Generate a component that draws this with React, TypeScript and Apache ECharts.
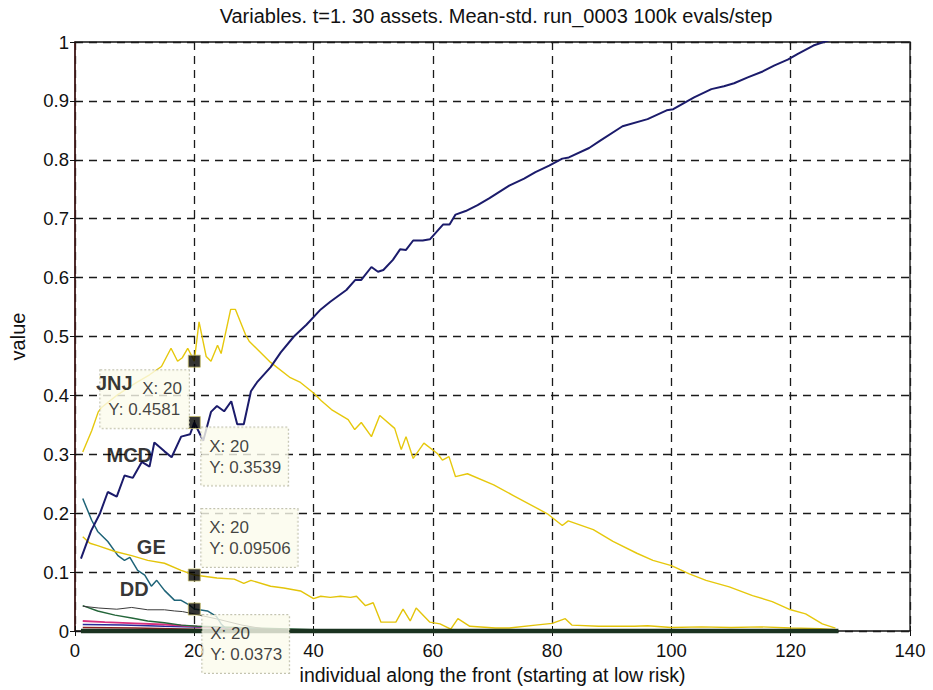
import React, { useEffect, useRef } from "react";
import * as echarts from "echarts";

const TITLE = "Variables. t=1. 30 assets. Mean-std. run_0003 100k evals/step";
const X_NAME = "individual along the front (starting at low risk)";
const Y_NAME = "value";

// MCD (navy, rising)
const mcdData: [number, number][] = [
  [1, 0.123], [2.7, 0.17], [4.2, 0.2], [5.5, 0.236], [7, 0.228], [8.3, 0.264], [9.7, 0.26],
  [11.2, 0.287], [12.5, 0.279], [13.3, 0.32], [15, 0.305], [16.2, 0.295], [17.8, 0.33],
  [19.3, 0.334], [20, 0.3539], [21.5, 0.323], [22.8, 0.372], [23.8, 0.382], [25, 0.373],
  [26.2, 0.39], [27.2, 0.351], [28.3, 0.351], [29.5, 0.407], [30.5, 0.422], [32.8, 0.448],
  [34.5, 0.473], [36.7, 0.5], [38.8, 0.52], [41.2, 0.546], [42.8, 0.559], [45.5, 0.579],
  [47, 0.596], [48, 0.596], [49.7, 0.618], [50.8, 0.61], [51.7, 0.613], [53.3, 0.63],
  [54.5, 0.648], [55.5, 0.647], [56.7, 0.663], [58.3, 0.663], [59.5, 0.665], [61.7, 0.69],
  [62.8, 0.69], [63.8, 0.707], [65.5, 0.713], [67.5, 0.723], [69.5, 0.735], [72.8, 0.756],
  [75.3, 0.768], [77.2, 0.779], [79.5, 0.79], [81.7, 0.802], [82.8, 0.804], [86.2, 0.82],
  [88, 0.832], [91.8, 0.857], [96, 0.869], [99.2, 0.884], [100.3, 0.886], [103.8, 0.906],
  [106.7, 0.92], [108.8, 0.925], [110.5, 0.93], [112.8, 0.94], [115.3, 0.95], [117.2, 0.96],
  [119.5, 0.97], [121.2, 0.98], [123.8, 0.994], [126.7, 1.004],
];

// JNJ (yellow hump)
const jnjData: [number, number][] = [
  [1.3, 0.304], [2.8, 0.34], [3.9, 0.372], [4.5, 0.38], [7, 0.4], [10, 0.42], [12.5, 0.435],
  [14.5, 0.449], [16.1, 0.48], [17.2, 0.458], [18, 0.464], [18.9, 0.48], [20, 0.4581],
  [20.8, 0.525], [22, 0.466], [22.8, 0.458], [23.9, 0.485], [24.5, 0.471], [26.1, 0.546],
  [26.9, 0.546], [28.6, 0.503], [29.2, 0.492], [32.8, 0.456], [36.1, 0.43], [37.8, 0.422],
  [40, 0.404], [41.3, 0.391], [43, 0.376], [45.8, 0.359], [46.9, 0.342], [48, 0.354],
  [49.7, 0.33], [51.1, 0.366], [53.6, 0.344], [54.7, 0.308], [55.5, 0.33], [56.7, 0.293],
  [58.5, 0.319], [60.8, 0.301], [61.6, 0.29], [62.7, 0.296], [63.8, 0.262], [65.8, 0.267],
  [70.2, 0.248], [73.5, 0.23], [79.2, 0.199], [81.7, 0.179], [82.7, 0.187], [86.9, 0.172],
  [90.2, 0.152], [94.2, 0.132], [96.9, 0.12], [100, 0.111], [103, 0.097], [105.8, 0.086],
  [109.7, 0.075], [113.6, 0.06], [116.9, 0.05], [119.7, 0.037], [122.5, 0.029],
  [125.3, 0.012], [127.5, 0.005],
];

// GE (yellow, low)
const geData: [number, number][] = [
  [1.3, 0.16], [2.5, 0.149], [3.8, 0.145], [6.7, 0.135], [9.5, 0.128], [12.2, 0.12],
  [15, 0.115], [17.8, 0.103], [20, 0.09506], [23.8, 0.09], [26.7, 0.088], [28.3, 0.081],
  [29.5, 0.086], [32.8, 0.076], [35, 0.073], [37.8, 0.068], [40, 0.055], [41.2, 0.059],
  [42.8, 0.057], [44.5, 0.059], [46.2, 0.057], [47.2, 0.059], [48.7, 0.043], [50, 0.048],
  [51.3, 0.015], [53.8, 0.015], [55, 0.037], [56.2, 0.017], [57.2, 0.039], [59.5, 0.015],
  [61.2, 0.012], [63, 0.003], [64.2, 0.021], [66.2, 0.008], [70.5, 0.005], [72.8, 0.005],
  [77.2, 0.01], [80, 0.013], [82.2, 0.021], [83.3, 0.01], [87.8, 0.008], [93.8, 0.008],
  [96, 0.009], [100, 0.006], [105, 0.007], [110, 0.006], [115, 0.007], [120, 0.005],
  [125, 0.004], [127.5, 0.002],
];

// DD (teal)
const ddData: [number, number][] = [
  [1.3, 0.225], [2.8, 0.188], [3.8, 0.169], [5.5, 0.152], [7.2, 0.128], [8.3, 0.12],
  [9.2, 0.125], [10.5, 0.103], [11.7, 0.095], [12.8, 0.076], [13.7, 0.086], [15, 0.069],
  [16.7, 0.052], [17.8, 0.052], [19.2, 0.044], [20, 0.0373], [22.2, 0.034], [23.7, 0.025],
  [24.5, 0.012], [25.3, 0.004], [27, 0],
];

// other small weights near zero
const blackThinData: [number, number][] = [
  [1.3, 0.042], [4, 0.039], [7, 0.037], [9.5, 0.04], [12.2, 0.036], [15, 0.036],
  [16.7, 0.034], [18, 0.033], [19.5, 0.03], [24, 0.02], [28, 0.01], [32, 0.003], [36, 0],
];
const greenData: [number, number][] = [
  [1.3, 0.043], [3.8, 0.034], [6.7, 0.027], [9.5, 0.022], [12.2, 0.017], [15, 0.014],
  [17.8, 0.01], [20.5, 0.008], [30, 0.005], [40, 0.002], [50, 0],
];
const magentaData: [number, number][] = [
  [1.3, 0.017], [5, 0.015], [10, 0.013], [15, 0.011], [20, 0.008], [25, 0.005], [30, 0.002], [35, 0],
];
const blueData: [number, number][] = [
  [1.3, 0.011], [8, 0.01], [15, 0.008], [20, 0.007], [30, 0.004], [40, 0],
];
const darkRedData: [number, number][] = [
  [1.3, 0.006], [10, 0.005], [20, 0.003], [30, 0],
];
const baselineData: [number, number][] = [
  [1, 0], [128, 0],
];

// data tips
const tipNames = ["JNJ", "MCD", "GE", "DD"];
const tipX = [20, 20, 20, 20];
const tipY = [0.4581, 0.3539, 0.09506, 0.0373];
const tipYText = ["0.4581", "0.3539", "0.09506", "0.0373"];

const FONT = "'Liberation Sans', Arial, Helvetica, sans-serif";

export default function App() {
  const ref = useRef<HTMLDivElement>(null);

  useEffect(() => {
    if (!ref.current) return;
    const chart = echarts.init(ref.current, null, { renderer: "svg" });

    // box top-left offsets relative to marker centre
    const boxOffsets: [number, number][] = [[-94, 9], [7, 5], [7, -66], [8, 6]];
    // name label centre offsets relative to marker centre
    const nameOffsets: [number, number][] = [[-80, 22], [-65, 32], [-43, -28], [-60, -20]];

    const tipData = tipNames.map((n, i) => ({
      value: [tipX[i], tipY[i]],
      label: {
        show: true,
        position: "inside",
        align: "left",
        verticalAlign: "top",
        offset: boxOffsets[i],
        formatter:
          i === 0
            ? `{gap|}X: ${tipX[i]}\nY: ${tipYText[i]}`
            : `X: ${tipX[i]}\nY: ${tipYText[i]}`,
        rich: { gap: { width: 34, height: 21 } },
      },
    }));

    const nameData = tipNames.map((n, i) => ({
      value: [tipX[i], tipY[i]],
      label: {
        show: true,
        position: "inside",
        align: "center",
        verticalAlign: "middle",
        offset: nameOffsets[i],
        formatter: n,
      },
    }));

    const lineSeries = (
      name: string,
      data: [number, number][],
      color: string,
      width: number,
      z = 2,
      clip = true
    ) => ({
      name,
      type: "line",
      data,
      showSymbol: false,
      symbol: "none",
      clip,
      lineStyle: { color, width },
      z,
      silent: true,
    });

    chart.setOption({
      animation: false,
      backgroundColor: "#ffffff",
      title: {
        text: TITLE,
        left: 491,
        top: 1,
        textAlign: "center",
        textStyle: { fontFamily: FONT, fontSize: 20, fontWeight: "normal", color: "#111" },
      },
      grid: {
        left: 73,
        right: 23,
        top: 42,
        bottom: 55,
        show: true,
        borderColor: "#111",
        borderWidth: 1.3,
        backgroundColor: "transparent",
      },
      xAxis: [
        {
          type: "value",
          min: 0,
          max: 140,
          interval: 20,
          name: X_NAME,
          nameLocation: "middle",
          nameGap: 34,
          nameTextStyle: { fontFamily: FONT, fontSize: 19.5, color: "#111" },
          axisLine: { show: false },
          axisTick: { show: true, inside: true, length: 5, lineStyle: { color: "#111" } },
          axisLabel: { fontFamily: FONT, fontSize: 18.5, color: "#111", margin: 10 },
          splitLine: {
            show: true,
            lineStyle: { color: "#1a1a1a", width: 1.3, type: [8, 6] },
          },
        },
        {
          type: "value",
          position: "top",
          min: 0,
          max: 140,
          interval: 20,
          axisLine: { show: false },
          axisTick: { show: true, inside: true, length: 5, lineStyle: { color: "#111" } },
          axisLabel: { show: false },
          splitLine: { show: false },
        },
      ],
      yAxis: [
        {
          type: "value",
          min: 0,
          max: 1,
          interval: 0.1,
          name: Y_NAME,
          nameLocation: "middle",
          nameGap: 47,
          nameTextStyle: { fontFamily: FONT, fontSize: 20, color: "#111" },
          axisLine: { show: true, lineStyle: { color: "#4a1a1a", width: 1.5 } },
          axisTick: { show: true, inside: true, length: 5, lineStyle: { color: "#111" } },
          axisLabel: { fontFamily: FONT, fontSize: 18.5, color: "#111", margin: 6 },
          splitLine: {
            show: true,
            lineStyle: { color: "#1a1a1a", width: 1.3, type: [8, 6] },
          },
        },
        {
          type: "value",
          position: "right",
          min: 0,
          max: 1,
          interval: 0.1,
          axisLine: { show: false },
          axisTick: { show: true, inside: true, length: 5, lineStyle: { color: "#111" } },
          axisLabel: { show: false },
          splitLine: { show: false },
        },
      ],
      series: [
        lineSeries("darkred", darkRedData, "#8a2020", 1.5, 3),
        lineSeries("blue", blueData, "#2a2a9a", 1.5, 3),
        lineSeries("magenta", magentaData, "#d8307e", 1.8, 3),
        lineSeries("green", greenData, "#24663a", 1.4, 3),
        lineSeries("black", blackThinData, "#3a3a3a", 1, 3),
        lineSeries("DD", ddData, "#1f6478", 1.5, 4),
        lineSeries("GE", geData, "#e3c40a", 1.4, 4),
        lineSeries("baseline", baselineData, "#1a3320", 4.5, 4, false),
        lineSeries("JNJ", jnjData, "#e6c80c", 1.4, 4),
        lineSeries("MCD", mcdData, "#1b1b6b", 2, 5),
        {
          name: "tips",
          type: "scatter",
          symbol: "rect",
          symbolSize: 12,
          itemStyle: { color: "#000", borderColor: "#c8c070", borderWidth: 1 },
          z: 10,
          silent: true,
          label: {
            fontFamily: FONT,
            fontSize: 17,
            lineHeight: 21,
            color: "#111",
            backgroundColor: "#fbfbec",
            borderColor: "#b4b49c",
            borderWidth: 1,
            borderType: "dotted",
            padding: [8, 7, 8, 8],
          },
          data: tipData,
        },
        {
          name: "names",
          type: "scatter",
          symbol: "circle",
          symbolSize: 1,
          itemStyle: { color: "rgba(0,0,0,0)" },
          z: 12,
          silent: true,
          label: {
            fontFamily: FONT,
            fontSize: 20,
            fontWeight: "bold",
            color: "#000",
          },
          data: nameData,
        },
      ],
    });

    return () => chart.dispose();
  }, []);

  return (
    <div
      ref={ref}
      style={{ position: "fixed", left: 0, top: 0, width: 933, height: 690, background: "#fff" }}
    />
  );
}
